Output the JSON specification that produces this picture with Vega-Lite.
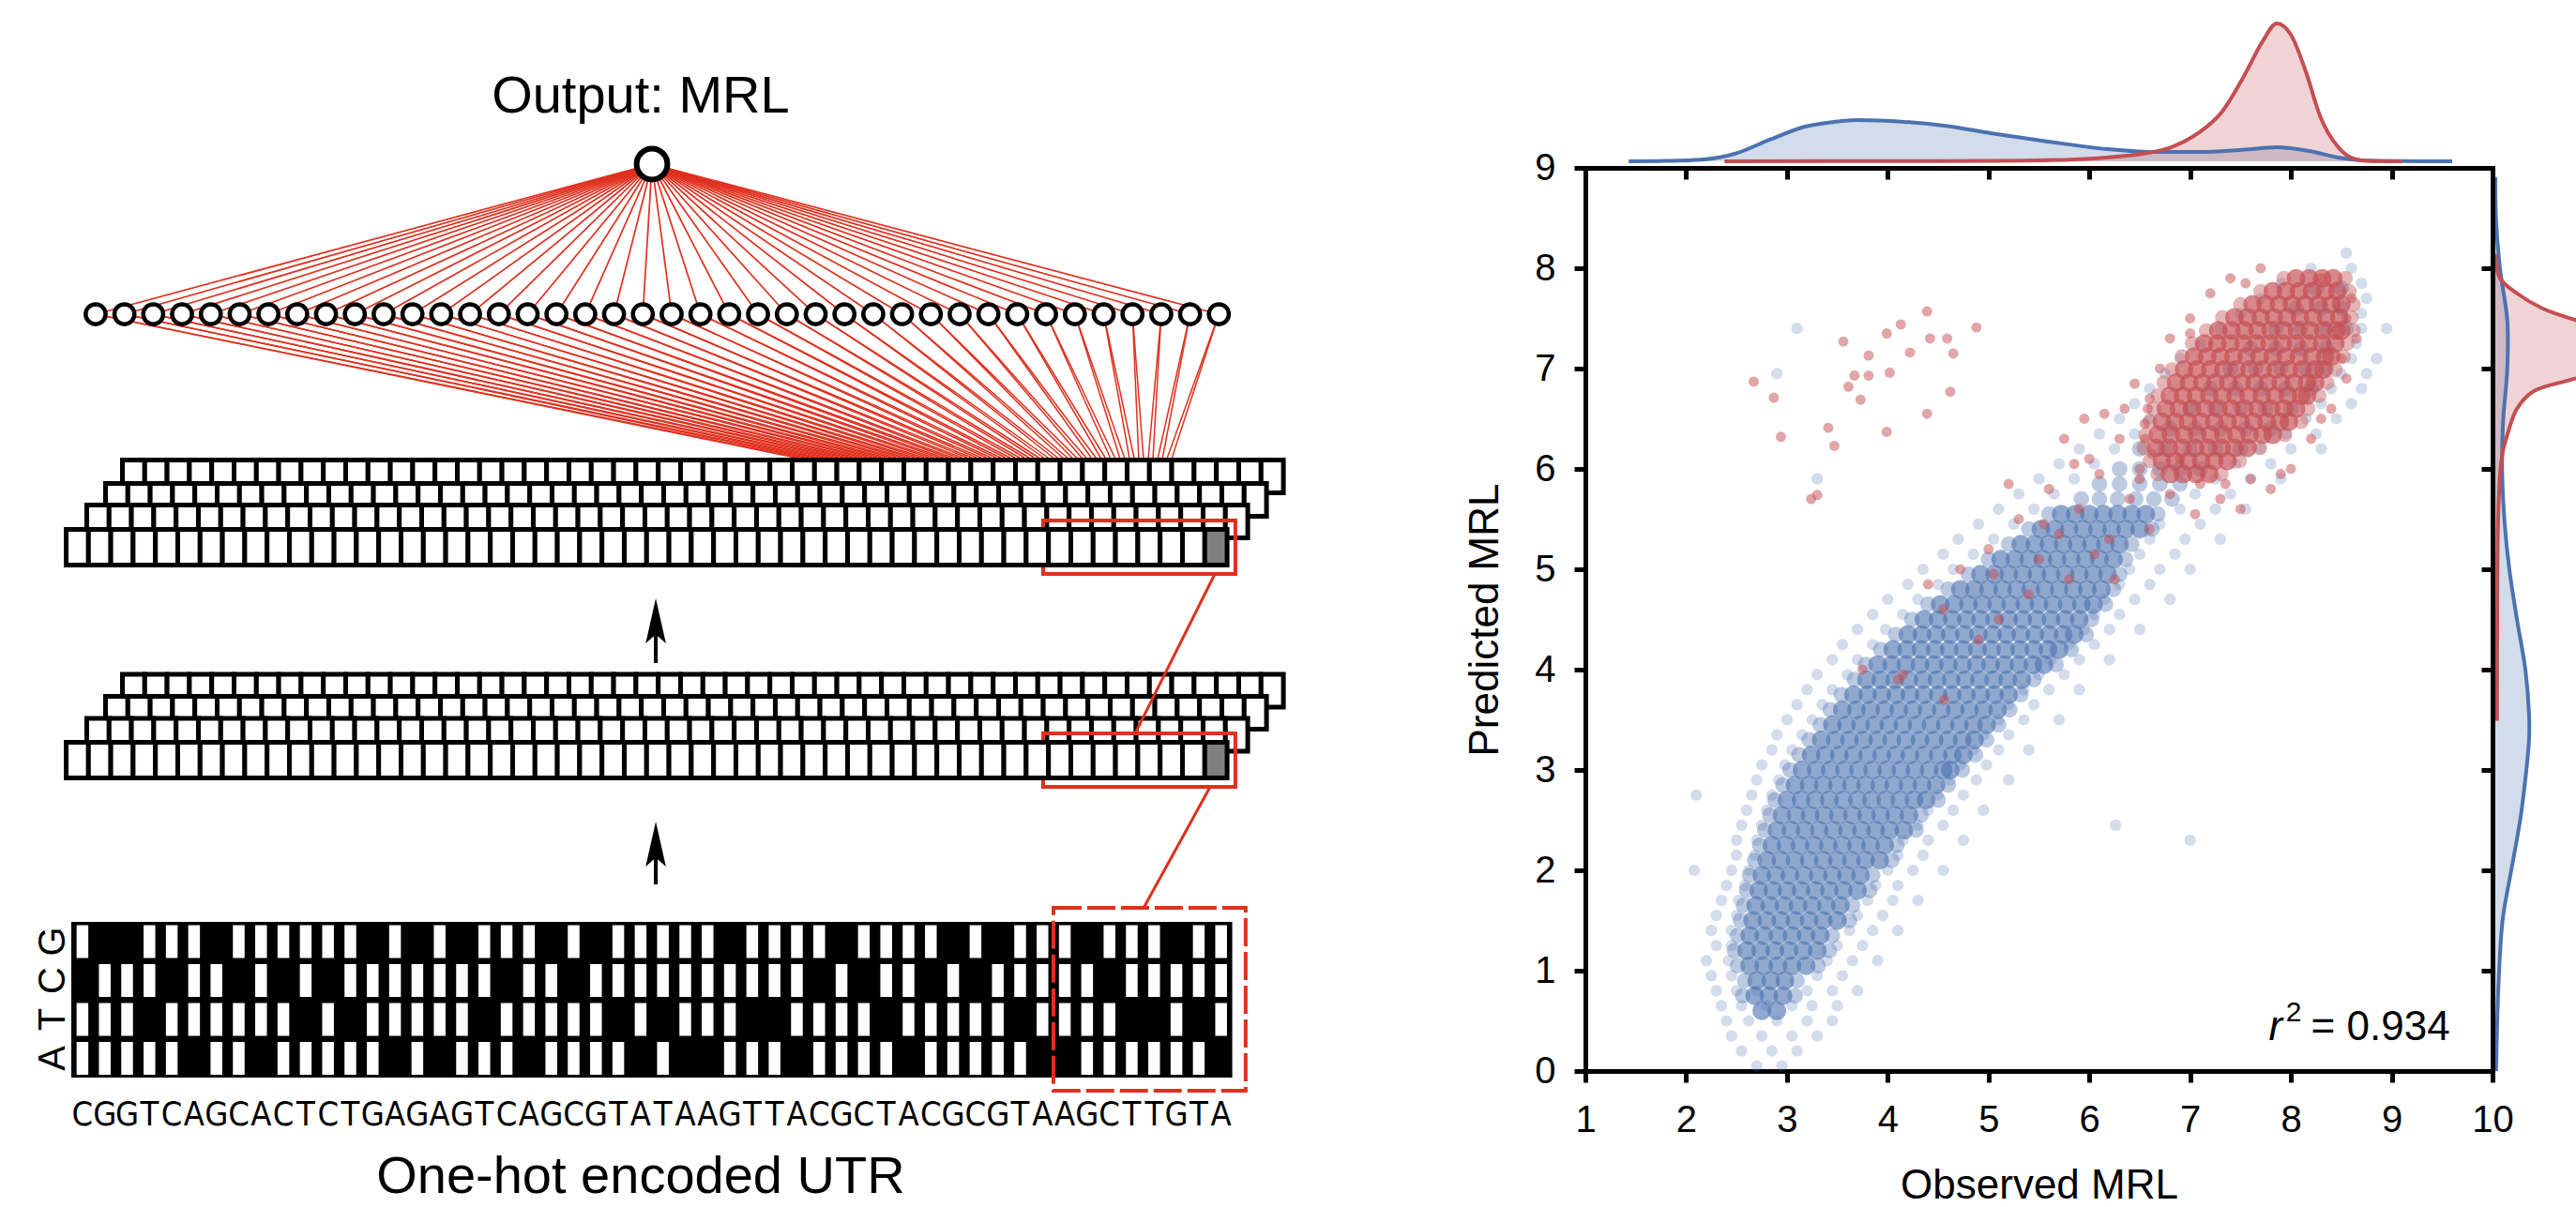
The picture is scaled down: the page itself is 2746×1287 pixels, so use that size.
{
"$schema":"https://vega.github.io/schema/vega-lite/v6.json",
"padding":0,
"background":"white",
"bounds":"flush",
"spacing":290,
"config":{
 "view":{"stroke":null},
 "font":"Liberation Sans",
 "axis":{"grid":false,"domainColor":"black","domainWidth":5,"domainCap":"square","tickColor":"black","tickWidth":5,"tickSize":12,"labelFont":"Liberation Sans","labelFontSize":40,"labelColor":"black","labelPadding":20,"titleFont":"Liberation Sans","titleFontSize":44,"titleFontWeight":"normal","titleColor":"black","labelOverlap":false,"labelFlush":false}
},
"datasets":{
 "nodes":[{"x":1.59,"to":32.94,"to2":33.15},{"x":2.88,"to":33.37,"to2":33.58},{"x":4.17,"to":33.79,"to2":34.0},{"x":5.46,"to":34.22,"to2":34.43},{"x":6.75,"to":34.65,"to2":34.86},{"x":8.04,"to":35.08,"to2":35.29},{"x":9.33,"to":35.5,"to2":35.71},{"x":10.62,"to":35.93,"to2":36.14},{"x":11.91,"to":36.36,"to2":36.57},{"x":13.2,"to":36.78,"to2":36.99},{"x":14.49,"to":37.21,"to2":37.42},{"x":15.78,"to":37.64,"to2":37.85},{"x":17.07,"to":38.06,"to2":38.27},{"x":18.36,"to":38.49,"to2":38.7},{"x":19.65,"to":38.92,"to2":39.13},{"x":20.94,"to":39.35,"to2":39.56},{"x":22.23,"to":39.77,"to2":39.98},{"x":23.52,"to":40.2,"to2":40.41},{"x":24.81,"to":40.63,"to2":40.84},{"x":26.1,"to":41.05,"to2":41.26},{"x":27.39,"to":41.48,"to2":41.69},{"x":28.68,"to":41.91,"to2":42.12},{"x":29.97,"to":42.33,"to2":42.54},{"x":31.26,"to":42.76,"to2":42.97},{"x":32.55,"to":43.19,"to2":43.4},{"x":33.84,"to":43.62,"to2":43.83},{"x":35.13,"to":44.04,"to2":44.25},{"x":36.42,"to":44.47,"to2":44.68},{"x":37.71,"to":44.9,"to2":45.11},{"x":39.0,"to":45.32,"to2":45.53},{"x":40.29,"to":45.75,"to2":45.96},{"x":41.58,"to":46.18,"to2":46.39},{"x":42.87,"to":46.6,"to2":46.81},{"x":44.16,"to":47.03,"to2":47.24},{"x":45.45,"to":47.46,"to2":47.67},{"x":46.74,"to":47.89,"to2":48.1},{"x":48.03,"to":48.31,"to2":48.52},{"x":49.32,"to":48.74,"to2":48.95},{"x":50.61,"to":49.17,"to2":49.38},{"x":51.9,"to":49.59,"to2":49.8}],
 "seq":[{"p":1,"b":"C"},{"p":2,"b":"G"},{"p":3,"b":"G"},{"p":4,"b":"T"},{"p":5,"b":"C"},{"p":6,"b":"A"},{"p":7,"b":"G"},{"p":8,"b":"C"},{"p":9,"b":"A"},{"p":10,"b":"C"},{"p":11,"b":"T"},{"p":12,"b":"C"},{"p":13,"b":"T"},{"p":14,"b":"G"},{"p":15,"b":"A"},{"p":16,"b":"G"},{"p":17,"b":"A"},{"p":18,"b":"G"},{"p":19,"b":"T"},{"p":20,"b":"C"},{"p":21,"b":"A"},{"p":22,"b":"G"},{"p":23,"b":"C"},{"p":24,"b":"G"},{"p":25,"b":"T"},{"p":26,"b":"A"},{"p":27,"b":"T"},{"p":28,"b":"A"},{"p":29,"b":"A"},{"p":30,"b":"G"},{"p":31,"b":"T"},{"p":32,"b":"T"},{"p":33,"b":"A"},{"p":34,"b":"C"},{"p":35,"b":"G"},{"p":36,"b":"C"},{"p":37,"b":"T"},{"p":38,"b":"A"},{"p":39,"b":"C"},{"p":40,"b":"G"},{"p":41,"b":"C"},{"p":42,"b":"G"},{"p":43,"b":"T"},{"p":44,"b":"A"},{"p":45,"b":"A"},{"p":46,"b":"G"},{"p":47,"b":"C"},{"p":48,"b":"T"},{"p":49,"b":"T"},{"p":50,"b":"G"},{"p":51,"b":"T"},{"p":52,"b":"A"}],
 "bases":[{"b":"G","row":24},{"b":"C","row":25},{"b":"T","row":26},{"b":"A","row":27}],
 "arrows":[{"head":15.759,"tail":16.843},{"head":21.494,"tail":22.53}],
 "links":[{"x":48.15,"y":18.651,"x2":51.72,"y2":14.554},{"x":48.53,"y":23.133,"x2":51.51,"y2":20.024}],
 "labels":[{"top":"Output: MRL","bottom":"One-hot encoded UTR"}],
 "r2":[{"r":"r","sup":"2","val":"= 0.934"}],
 "mx":[{"v":1.43,"d":0,"s":"blue"},{"v":1.8,"d":0.003,"s":"blue"},{"v":2.15,"d":0.012,"s":"blue"},{"v":2.49,"d":0.057,"s":"blue"},{"v":2.83,"d":0.159,"s":"blue"},{"v":3.18,"d":0.255,"s":"blue"},{"v":3.47,"d":0.29,"s":"blue"},{"v":3.69,"d":0.303,"s":"blue"},{"v":4.16,"d":0.29,"s":"blue"},{"v":4.56,"d":0.262,"s":"blue"},{"v":5.02,"d":0.207,"s":"blue"},{"v":5.59,"d":0.145,"s":"blue"},{"v":6.17,"d":0.09,"s":"blue"},{"v":6.63,"d":0.069,"s":"blue"},{"v":7.08,"d":0.069,"s":"blue"},{"v":7.49,"d":0.083,"s":"blue"},{"v":7.86,"d":0.103,"s":"blue"},{"v":8.18,"d":0.076,"s":"blue"},{"v":8.47,"d":0.028,"s":"blue"},{"v":8.76,"d":0.005,"s":"blue"},{"v":9.1,"d":0.001,"s":"blue"},{"v":9.6,"d":0,"s":"blue"},
  {"v":2.38,"d":0,"s":"red"},{"v":3.5,"d":0.002,"s":"red"},{"v":4.5,"d":0.002,"s":"red"},{"v":5.02,"d":0.003,"s":"red"},{"v":5.6,"d":0.008,"s":"red"},{"v":6.17,"d":0.028,"s":"red"},{"v":6.52,"d":0.055,"s":"red"},{"v":6.81,"d":0.103,"s":"red"},{"v":7.08,"d":0.207,"s":"red"},{"v":7.31,"d":0.359,"s":"red"},{"v":7.54,"d":0.634,"s":"red"},{"v":7.72,"d":0.883,"s":"red"},{"v":7.86,"d":1.014,"s":"red"},{"v":8.0,"d":0.931,"s":"red"},{"v":8.15,"d":0.655,"s":"red"},{"v":8.29,"d":0.331,"s":"red"},{"v":8.47,"d":0.103,"s":"red"},{"v":8.64,"d":0.016,"s":"red"},{"v":8.8,"d":0.002,"s":"red"},{"v":9.1,"d":0,"s":"red"}],
 "my":[{"v":0.0,"d":0.006,"s":"blue"},{"v":0.5,"d":0.014,"s":"blue"},{"v":1.0,"d":0.028,"s":"blue"},{"v":1.52,"d":0.055,"s":"blue"},{"v":2.0,"d":0.117,"s":"blue"},{"v":2.53,"d":0.186,"s":"blue"},{"v":3.0,"d":0.228,"s":"blue"},{"v":3.31,"d":0.248,"s":"blue"},{"v":3.55,"d":0.248,"s":"blue"},{"v":4.0,"d":0.221,"s":"blue"},{"v":4.5,"d":0.159,"s":"blue"},{"v":5.0,"d":0.103,"s":"blue"},{"v":5.45,"d":0.069,"s":"blue"},{"v":6.0,"d":0.05,"s":"blue"},{"v":6.47,"d":0.057,"s":"blue"},{"v":7.0,"d":0.088,"s":"blue"},{"v":7.48,"d":0.088,"s":"blue"},{"v":8.0,"d":0.034,"s":"blue"},{"v":8.5,"d":0.005,"s":"blue"},{"v":8.91,"d":0,"s":"blue"},
  {"v":3.49,"d":0.012,"s":"red"},{"v":4.5,"d":0.014,"s":"red"},{"v":5.4,"d":0.019,"s":"red"},{"v":5.93,"d":0.034,"s":"red"},{"v":6.17,"d":0.055,"s":"red"},{"v":6.35,"d":0.09,"s":"red"},{"v":6.6,"d":0.159,"s":"red"},{"v":6.77,"d":0.276,"s":"red"},{"v":6.88,"d":0.53,"s":"red"},{"v":7.0,"d":0.9,"s":"red"},{"v":7.15,"d":1.2,"s":"red"},{"v":7.3,"d":1.15,"s":"red"},{"v":7.48,"d":0.6,"s":"red"},{"v":7.6,"d":0.345,"s":"red"},{"v":7.75,"d":0.159,"s":"red"},{"v":7.9,"d":0.034,"s":"red"},{"v":8.14,"d":0,"s":"red"}],
 "bc":[{"y":0.6,"x":[2.75,2.9]},{"y":0.75,"x":[2.68,2.82,2.96]},{"y":0.9,"x":[2.7,2.84,2.98]},{"y":1.05,"x":[2.63,2.77,2.91,3.05,3.19]},{"y":1.2,"x":[2.6,2.74,2.88,3.02,3.16,3.3]},{"y":1.35,"x":[2.63,2.77,2.91,3.05,3.19,3.33]},{"y":1.5,"x":[2.66,2.8,2.94,3.08,3.22,3.36,3.5]},{"y":1.65,"x":[2.69,2.83,2.97,3.11,3.25,3.39,3.53]},{"y":1.8,"x":[2.72,2.86,3.0,3.14,3.28,3.42,3.56,3.7]},{"y":1.95,"x":[2.75,2.89,3.03,3.17,3.31,3.45,3.59,3.73]},{"y":2.1,"x":[2.8,2.94,3.08,3.22,3.36,3.5,3.64,3.78,3.92]},{"y":2.25,"x":[2.85,2.99,3.13,3.27,3.41,3.55,3.69,3.83,3.97]},{"y":2.4,"x":[2.9,3.04,3.18,3.32,3.46,3.6,3.74,3.88,4.02,4.16]},{"y":2.55,"x":[2.95,3.09,3.23,3.37,3.51,3.65,3.79,3.93,4.07,4.21]},{"y":2.7,"x":[3.0,3.14,3.28,3.42,3.56,3.7,3.84,3.98,4.12,4.26,4.38]},{"y":2.85,"x":[3.08,3.22,3.36,3.5,3.64,3.78,3.92,4.06,4.2,4.34,4.48]},{"y":3.0,"x":[3.15,3.29,3.43,3.57,3.71,3.85,3.99,4.13,4.27,4.41,4.55,4.62]},{"y":3.15,"x":[3.24,3.38,3.52,3.66,3.8,3.94,4.08,4.22,4.36,4.5,4.64,4.75]},{"y":3.3,"x":[3.34,3.48,3.62,3.76,3.9,4.04,4.18,4.32,4.46,4.6,4.74,4.86]},{"y":3.45,"x":[3.45,3.59,3.73,3.87,4.01,4.15,4.29,4.43,4.57,4.71,4.85,4.98]},{"y":3.6,"x":[3.55,3.69,3.83,3.97,4.11,4.25,4.39,4.53,4.67,4.81,4.95,5.09]},{"y":3.75,"x":[3.66,3.8,3.94,4.08,4.22,4.36,4.5,4.64,4.78,4.92,5.06,5.2]},{"y":3.9,"x":[3.79,3.93,4.07,4.21,4.35,4.49,4.63,4.77,4.91,5.05,5.19,5.33]},{"y":4.05,"x":[3.9,4.04,4.18,4.32,4.46,4.6,4.74,4.88,5.02,5.16,5.3,5.44,5.55]},{"y":4.2,"x":[4.05,4.19,4.33,4.47,4.61,4.75,4.89,5.03,5.17,5.31,5.45,5.59,5.7]},{"y":4.35,"x":[4.2,4.34,4.48,4.62,4.76,4.9,5.04,5.18,5.32,5.46,5.6,5.74,5.85]},{"y":4.5,"x":[4.36,4.5,4.64,4.78,4.92,5.06,5.2,5.34,5.48,5.62,5.76,5.9]},{"y":4.65,"x":[4.52,4.66,4.8,4.94,5.08,5.22,5.36,5.5,5.64,5.78,5.92,6.04]},{"y":4.8,"x":[4.72,4.86,5.0,5.14,5.28,5.42,5.56,5.7,5.84,5.98,6.12]},{"y":4.95,"x":[4.92,5.06,5.2,5.34,5.48,5.62,5.76,5.9,6.04,6.18]},{"y":5.1,"x":[5.12,5.26,5.4,5.54,5.68,5.82,5.96,6.1,6.24]},{"y":5.25,"x":[5.32,5.46,5.6,5.74,5.88,6.02,6.16,6.3]},{"y":5.4,"x":[5.52,5.66,5.8,5.94,6.08,6.22,6.36,6.5]},{"y":5.55,"x":[5.72,5.86,6.0,6.14,6.28,6.42,6.56]}],
 "bm":[{"y":0.75,"x":[2.56,3.08]},{"y":0.9,"x":[2.58,3.1]},{"y":1.05,"x":[2.51,3.31]},{"y":1.2,"x":[2.48,3.42]},{"y":1.35,"x":[2.51,3.45]},{"y":1.5,"x":[2.54,3.62]},{"y":1.65,"x":[2.57,3.65]},{"y":1.8,"x":[2.6,3.82]},{"y":1.95,"x":[2.63,3.85]},{"y":2.1,"x":[2.68,4.04]},{"y":2.25,"x":[2.73,4.09]},{"y":2.4,"x":[2.78,4.28]},{"y":2.55,"x":[2.83,4.33]},{"y":2.7,"x":[2.88,4.5]},{"y":2.85,"x":[2.96,4.6]},{"y":3.0,"x":[3.03,4.74]},{"y":3.15,"x":[3.12,4.87]},{"y":3.3,"x":[3.22,4.98]},{"y":3.45,"x":[3.33,5.1]},{"y":3.6,"x":[3.43,5.21]},{"y":3.75,"x":[3.54,5.32]},{"y":3.9,"x":[3.67,5.45]},{"y":4.05,"x":[3.78,5.67]},{"y":4.2,"x":[3.93,5.82]},{"y":4.35,"x":[4.08,5.97]},{"y":4.5,"x":[4.24,6.02]},{"y":4.65,"x":[4.4,6.16]},{"y":4.8,"x":[4.6,6.24]},{"y":4.95,"x":[4.8,6.3]},{"y":5.1,"x":[5.0,6.36]},{"y":5.25,"x":[5.2,6.42]},{"y":5.4,"x":[5.4,6.62]},{"y":5.55,"x":[5.6,6.68]},{"y":5.7,"x":[5.92,6.1,6.28,6.46,6.64,6.82]},{"y":5.85,"x":[6.1,6.3,6.5,6.7,6.9]},{"y":6.0,"x":[6.3,6.5,6.7,6.9,7.1]},{"y":6.2,"x":[6.5,6.75,7.0,7.25,7.5]},{"y":6.4,"x":[6.8,7.05,7.3,7.55,7.8]},{"y":6.6,"x":[7.0,7.25,7.5,7.75,8.0]},{"y":6.8,"x":[7.2,7.45,7.7,7.95,8.2]},{"y":7.0,"x":[7.4,7.65,7.9,8.15,8.35]},{"y":7.2,"x":[7.6,7.85,8.1,8.35]},{"y":7.4,"x":[7.85,8.1,8.35,8.55]},{"y":7.6,"x":[8.05,8.3,8.5]},{"y":7.8,"x":[8.25,8.5]}],
 "bh":[{"y":0.05,"x":[2.7,2.95]},{"y":0.2,"x":[2.55,2.85,3.1]},{"y":0.35,"x":[2.45,2.75,3.05,3.3]},{"y":0.5,"x":[2.4,2.62,2.9,3.2,3.45]},{"y":0.65,"x":[2.35,2.55,2.8,3.05,3.25,3.5]},{"y":0.8,"x":[2.3,2.5,2.7,3.2,3.45,3.7]},{"y":0.95,"x":[2.25,2.45,3.3,3.55]},{"y":1.1,"x":[2.2,2.42,3.4,3.65,3.9]},{"y":1.25,"x":[2.3,2.45,3.5,3.75]},{"y":1.4,"x":[2.25,2.45,3.62,3.85,4.1]},{"y":1.55,"x":[2.3,2.5,3.7,3.95]},{"y":1.7,"x":[2.35,2.52,3.8,4.05,4.3]},{"y":1.85,"x":[2.4,2.58,3.88,4.1]},{"y":2.0,"x":[2.08,2.45,2.62,4.0,4.25,4.55]},{"y":2.15,"x":[2.5,2.68,4.1,4.35]},{"y":2.3,"x":[2.5,2.7,4.15,4.4,4.75,7.0]},{"y":2.45,"x":[2.55,2.75,4.3,4.55,6.26]},{"y":2.6,"x":[2.6,2.8,4.4,4.65,4.95]},{"y":2.75,"x":[2.1,2.65,2.85,4.5,4.75]},{"y":2.9,"x":[2.7,2.92,4.62,4.88,5.2]},{"y":3.05,"x":[2.75,2.98,4.72,4.98]},{"y":3.2,"x":[2.85,3.05,4.85,5.1,5.4]},{"y":3.35,"x":[2.9,3.15,4.95,5.2]},{"y":3.5,"x":[3.0,3.25,5.1,5.35,5.7]},{"y":3.65,"x":[3.1,3.35,5.2,5.45]},{"y":3.8,"x":[3.2,3.45,5.35,5.6,5.9]},{"y":3.95,"x":[3.3,3.6,5.5,5.75]},{"y":4.1,"x":[3.45,3.7,5.62,5.9,6.2]},{"y":4.25,"x":[3.55,3.85,5.8,6.05]},{"y":4.4,"x":[3.7,3.98,5.95,6.2,6.5]},{"y":4.55,"x":[3.85,4.15,6.05,6.3]},{"y":4.7,"x":[4.0,4.3,6.15,6.45,6.8]},{"y":4.85,"x":[4.2,4.5,6.3,6.6]},{"y":5.0,"x":[4.35,4.65,6.4,6.7,7.0]},{"y":5.15,"x":[4.55,4.85,6.5,6.85]},{"y":5.3,"x":[4.7,5.05,6.6,6.95,7.3]},{"y":5.45,"x":[4.9,5.25,6.7,7.1]},{"y":5.6,"x":[5.1,5.45,6.9,7.25,7.55]},{"y":5.75,"x":[5.3,5.65,7.05,7.4]},{"y":5.9,"x":[3.3,5.5,5.85,7.25,7.6,7.9]},{"y":6.05,"x":[5.7,6.05,7.45,7.8]},{"y":6.2,"x":[5.9,6.25,7.7,8.0,8.3]},{"y":6.35,"x":[6.1,6.45,7.95,8.25]},{"y":6.5,"x":[6.3,6.6,8.15,8.45]},{"y":6.65,"x":[6.45,8.3,8.6]},{"y":6.8,"x":[6.6,8.4,8.7]},{"y":6.95,"x":[2.9,6.75,8.5,8.75]},{"y":7.1,"x":[6.9,8.6,8.85]},{"y":7.25,"x":[7.1,8.65]},{"y":7.4,"x":[3.1,7.3,8.7,8.95]},{"y":7.55,"x":[7.5,8.7]},{"y":7.7,"x":[7.7,8.75]},{"y":7.85,"x":[7.9,8.7]},{"y":8.0,"x":[8.2,8.6]},{"y":8.15,"x":[8.55]}],
 "rc":[{"y":5.95,"x":[6.8,6.93,7.06,7.19]},{"y":6.08,"x":[6.72,6.85,6.98,7.11,7.24,7.37]},{"y":6.21,"x":[6.66,6.79,6.92,7.05,7.18,7.31,7.44,7.57]},{"y":6.34,"x":[6.68,6.81,6.94,7.07,7.2,7.33,7.46,7.59,7.72,7.82]},{"y":6.47,"x":[6.72,6.85,6.98,7.11,7.24,7.37,7.5,7.63,7.76,7.89,7.98]},{"y":6.6,"x":[6.76,6.89,7.02,7.15,7.28,7.41,7.54,7.67,7.8,7.93,8.05]},{"y":6.73,"x":[6.8,6.93,7.06,7.19,7.32,7.45,7.58,7.71,7.84,7.97,8.1,8.16]},{"y":6.86,"x":[6.86,6.99,7.12,7.25,7.38,7.51,7.64,7.77,7.9,8.03,8.16,8.24]},{"y":6.99,"x":[6.94,7.07,7.2,7.33,7.46,7.59,7.72,7.85,7.98,8.11,8.24,8.32]},{"y":7.12,"x":[7.04,7.17,7.3,7.43,7.56,7.69,7.82,7.95,8.08,8.21,8.34,8.4]},{"y":7.25,"x":[7.14,7.27,7.4,7.53,7.66,7.79,7.92,8.05,8.18,8.31,8.44]},{"y":7.38,"x":[7.28,7.41,7.54,7.67,7.8,7.93,8.06,8.19,8.32,8.45,8.5]},{"y":7.51,"x":[7.44,7.57,7.7,7.83,7.96,8.09,8.22,8.35,8.48]},{"y":7.64,"x":[7.62,7.75,7.88,8.01,8.14,8.27,8.4,8.5]},{"y":7.77,"x":[7.82,7.95,8.08,8.21,8.34,8.46]},{"y":7.9,"x":[8.05,8.18,8.31,8.42]}],
 "rm":[{"y":5.95,"x":[6.68,7.31]},{"y":6.08,"x":[6.6,7.49]},{"y":6.21,"x":[6.54,7.69]},{"y":6.34,"x":[6.56,7.94]},{"y":6.47,"x":[6.6,8.1]},{"y":6.6,"x":[6.64,8.17]},{"y":6.73,"x":[6.68,8.28]},{"y":6.86,"x":[6.74,8.36]},{"y":6.99,"x":[6.82,8.44]},{"y":7.12,"x":[6.92,8.52]},{"y":7.25,"x":[7.02,8.56]},{"y":7.38,"x":[7.16,8.62]},{"y":7.51,"x":[7.32,8.6]},{"y":7.64,"x":[7.5,8.62]},{"y":7.77,"x":[7.7,8.58]},{"y":7.9,"x":[7.93,8.54]}],
 "rs":[{"x":2.67,"y":6.87},{"x":2.87,"y":6.71},{"x":2.94,"y":6.32},{"x":3.24,"y":5.7},{"x":3.3,"y":5.74},{"x":3.41,"y":6.41},{"x":3.47,"y":6.23},{"x":3.56,"y":7.27},{"x":3.61,"y":6.82},{"x":3.67,"y":6.93},{"x":3.73,"y":6.69},{"x":3.81,"y":7.13},{"x":3.81,"y":6.93},{"x":3.99,"y":7.35},{"x":4.02,"y":6.96},{"x":3.99,"y":6.37},{"x":4.13,"y":7.44},{"x":4.22,"y":7.16},{"x":4.39,"y":7.57},{"x":4.42,"y":7.3},{"x":4.39,"y":6.55},{"x":4.59,"y":7.3},{"x":4.65,"y":7.15},{"x":4.62,"y":6.77},{"x":4.88,"y":7.41},{"x":3.75,"y":4.0},{"x":4.1,"y":3.9},{"x":4.15,"y":3.95},{"x":4.56,"y":3.7},{"x":4.4,"y":4.85},{"x":4.55,"y":4.6},{"x":4.72,"y":5.0},{"x":5.0,"y":5.2},{"x":5.3,"y":5.5},{"x":5.5,"y":5.1},{"x":5.1,"y":4.5},{"x":5.6,"y":5.8},{"x":5.9,"y":5.6},{"x":6.0,"y":6.1},{"x":6.2,"y":5.3},{"x":5.8,"y":4.9},{"x":6.4,"y":5.7},{"x":6.1,"y":5.95},{"x":6.3,"y":6.3},{"x":5.4,"y":4.75},{"x":5.7,"y":5.35},{"x":4.9,"y":4.3},{"x":6.5,"y":5.9},{"x":6.55,"y":6.45},{"x":6.35,"y":6.6},{"x":5.95,"y":6.5},{"x":5.2,"y":5.85},{"x":5.75,"y":6.3},{"x":6.6,"y":5.4},{"x":6.45,"y":6.85},{"x":6.25,"y":4.9},{"x":6.5,"y":6.0},{"x":6.55,"y":6.3},{"x":6.6,"y":6.7},{"x":6.7,"y":7.0},{"x":6.8,"y":7.3},{"x":7.0,"y":7.5},{"x":7.2,"y":7.75},{"x":7.4,"y":7.9},{"x":7.7,"y":8.0},{"x":8.6,"y":7.7},{"x":8.65,"y":7.3},{"x":8.55,"y":6.9},{"x":8.4,"y":6.6},{"x":8.2,"y":6.3},{"x":8.0,"y":6.0},{"x":7.8,"y":5.8},{"x":7.5,"y":5.6},{"x":7.3,"y":5.7},{"x":7.6,"y":5.9},{"x":8.3,"y":7.9},{"x":5.05,"y":4.95},{"x":5.55,"y":5.45},{"x":6.05,"y":5.15},{"x":6.8,"y":5.75},{"x":7.05,"y":5.55},{"x":6.15,"y":6.55},{"x":5.85,"y":6.05},{"x":7.1,"y":5.85},{"x":6.9,"y":6.1},{"x":6.62,"y":6.15},{"x":6.58,"y":6.6},{"x":7.0,"y":7.35},{"x":7.55,"y":7.85},{"x":8.55,"y":7.5},{"x":8.5,"y":7.1},{"x":8.3,"y":6.5},{"x":7.9,"y":5.95},{"x":7.35,"y":5.85}]
},
"hconcat":[
 {
  "width":1400,"height":1287,
  "layer":[
   {"data":{"name":"nodes"},"mark":{"type":"rule","color":"#e0301e","strokeWidth":1.7},
    "encoding":{"x":{"field":"x","type":"quantitative","scale":{"domain":[-2.693,56.131],"nice":false,"zero":false},"axis":null},"y":{"datum":7.88,"type":"quantitative","scale":{"domain":[-0.193,30.819],"nice":false,"zero":false,"reverse":true},"axis":null},"x2":{"datum":26.51},"y2":{"datum":4.024}}},
   {"data":{"name":"nodes"},"mark":{"type":"rule","color":"#e0301e","strokeWidth":1.5},
    "encoding":{"x":{"field":"x","type":"quantitative","axis":null},"y":{"datum":7.88,"type":"quantitative","axis":null},"x2":{"field":"to"},"y2":{"datum":11.566}}},
   {"data":{"name":"nodes"},"mark":{"type":"rule","color":"#e0301e","strokeWidth":1.5},
    "encoding":{"x":{"field":"x","type":"quantitative","axis":null},"y":{"datum":7.88,"type":"quantitative","axis":null},"x2":{"field":"to2"},"y2":{"datum":11.566}}},
   {"data":{"name":"nodes"},"mark":{"type":"point","shape":"circle","size":450,"filled":true,"fill":"white","stroke":"black","strokeWidth":4.5,"opacity":1},
    "encoding":{"x":{"field":"x","type":"quantitative","axis":null},"y":{"datum":7.88,"type":"quantitative","axis":null}}},
   {"data":{"name":"labels"},"mark":{"type":"point","shape":"circle","size":1075,"filled":true,"fill":"white","stroke":"black","strokeWidth":6,"opacity":1},
    "encoding":{"x":{"datum":26.51,"type":"quantitative","axis":null},"y":{"datum":4.024,"type":"quantitative","axis":null}}},
   {"data":{"name":"labels"},"mark":{"type":"text","fontSize":56,"align":"center","baseline":"alphabetic","color":"black","font":"Liberation Sans"},
    "encoding":{"text":{"field":"top"},"x":{"datum":26.0,"type":"quantitative","axis":null},"y":{"datum":2.7,"type":"quantitative","axis":null}}},
   {"data":{"name":"seq"},"mark":{"type":"point","shape":"M-0.68,-1L0.68,-1L0.68,1L-0.68,1Z","size":1225,"filled":true,"fill":"white","stroke":"black","strokeWidth":5,"opacity":1,"xOffset":54.5},
    "encoding":{"x":{"field":"p","type":"quantitative","axis":null},"y":{"datum":12.048,"type":"quantitative","axis":null}}},
   {"data":{"name":"seq"},"mark":{"type":"point","shape":"M-0.68,-1L0.68,-1L0.68,1L-0.68,1Z","size":1225,"filled":true,"fill":"white","stroke":"black","strokeWidth":5,"opacity":1,"xOffset":36.5},
    "encoding":{"x":{"field":"p","type":"quantitative","axis":null},"y":{"datum":12.651,"type":"quantitative","axis":null}}},
   {"data":{"name":"seq"},"mark":{"type":"point","shape":"M-0.68,-1L0.68,-1L0.68,1L-0.68,1Z","size":1225,"filled":true,"fill":"white","stroke":"black","strokeWidth":5,"opacity":1,"xOffset":16.5},
    "encoding":{"x":{"field":"p","type":"quantitative","axis":null},"y":{"datum":13.205,"type":"quantitative","axis":null}}},
   {"data":{"name":"labels"},"mark":{"type":"rect","fillOpacity":0,"stroke":"#e0301e","strokeWidth":4},
    "encoding":{"x":{"datum":44.03,"type":"quantitative","axis":null},"x2":{"datum":52.64},"y":{"datum":13.181,"type":"quantitative","axis":null},"y2":{"datum":14.554}}},
   {"data":{"name":"seq"},"mark":{"type":"point","shape":"M-0.626,-1L0.626,-1L0.626,1L-0.626,1Z","size":1444,"filled":true,"stroke":"black","strokeWidth":5,"opacity":1,"xOffset":-5.5},
    "encoding":{"x":{"field":"p","type":"quantitative","axis":null},"y":{"datum":13.867,"type":"quantitative","axis":null},"fill":{"condition":{"test":"datum.p === 52","value":"#7f7f7f"},"value":"white"}}},
   {"data":{"name":"arrows"},"mark":{"type":"rule","color":"black","strokeWidth":4},
    "encoding":{"x":{"datum":26.68,"type":"quantitative","axis":null},"y":{"field":"head","type":"quantitative","axis":null},"y2":{"field":"tail"}}},
   {"data":{"name":"arrows"},"mark":{"type":"point","shape":"M0,-1L0.45,1L0,0.6L-0.45,1Z","size":2304,"filled":true,"color":"black","opacity":1},
    "encoding":{"x":{"datum":26.68,"type":"quantitative","axis":null},"y":{"field":"head","type":"quantitative","axis":null}}},
   {"data":{"name":"seq"},"mark":{"type":"point","shape":"M-0.68,-1L0.68,-1L0.68,1L-0.68,1Z","size":1225,"filled":true,"fill":"white","stroke":"black","strokeWidth":5,"opacity":1,"xOffset":54.5},
    "encoding":{"x":{"field":"p","type":"quantitative","axis":null},"y":{"datum":17.554,"type":"quantitative","axis":null}}},
   {"data":{"name":"seq"},"mark":{"type":"point","shape":"M-0.68,-1L0.68,-1L0.68,1L-0.68,1Z","size":1225,"filled":true,"fill":"white","stroke":"black","strokeWidth":5,"opacity":1,"xOffset":36.5},
    "encoding":{"x":{"field":"p","type":"quantitative","axis":null},"y":{"datum":18.12,"type":"quantitative","axis":null}}},
   {"data":{"name":"seq"},"mark":{"type":"point","shape":"M-0.68,-1L0.68,-1L0.68,1L-0.68,1Z","size":1225,"filled":true,"fill":"white","stroke":"black","strokeWidth":5,"opacity":1,"xOffset":16.5},
    "encoding":{"x":{"field":"p","type":"quantitative","axis":null},"y":{"datum":18.687,"type":"quantitative","axis":null}}},
   {"data":{"name":"labels"},"mark":{"type":"rect","fillOpacity":0,"stroke":"#e0301e","strokeWidth":4},
    "encoding":{"x":{"datum":44.03,"type":"quantitative","axis":null},"x2":{"datum":52.64},"y":{"datum":18.651,"type":"quantitative","axis":null},"y2":{"datum":20.024}}},
   {"data":{"name":"seq"},"mark":{"type":"point","shape":"M-0.626,-1L0.626,-1L0.626,1L-0.626,1Z","size":1444,"filled":true,"stroke":"black","strokeWidth":5,"opacity":1,"xOffset":-5.5},
    "encoding":{"x":{"field":"p","type":"quantitative","axis":null},"y":{"datum":19.337,"type":"quantitative","axis":null},"fill":{"condition":{"test":"datum.p === 52","value":"#7f7f7f"},"value":"white"}}},
   {"data":{"name":"links"},"mark":{"type":"rule","color":"#e0301e","strokeWidth":3},
    "encoding":{"x":{"field":"x","type":"quantitative","axis":null},"y":{"field":"y","type":"quantitative","axis":null},"x2":{"field":"x2"},"y2":{"field":"y2"}}},
   {"data":{"name":"labels"},"mark":{"type":"rect","color":"black"},
    "encoding":{"x":{"datum":0.5,"type":"quantitative","axis":null},"x2":{"datum":52.5},"y":{"datum":23.494,"type":"quantitative","axis":null},"y2":{"datum":27.494}}},
   {"data":{"name":"seq"},"mark":{"type":"point","shape":"M-0.357,-1L0.357,-1L0.357,1L-0.357,1Z","size":1225,"filled":true,"strokeWidth":0,"opacity":1},
    "encoding":{"x":{"field":"p","type":"quantitative","axis":null},"y":{"datum":24,"type":"quantitative","axis":null},"fill":{"condition":{"test":"datum.b === 'G'","value":"black"},"value":"white"}}},
   {"data":{"name":"seq"},"mark":{"type":"point","shape":"M-0.357,-1L0.357,-1L0.357,1L-0.357,1Z","size":1225,"filled":true,"strokeWidth":0,"opacity":1},
    "encoding":{"x":{"field":"p","type":"quantitative","axis":null},"y":{"datum":25,"type":"quantitative","axis":null},"fill":{"condition":{"test":"datum.b === 'C'","value":"black"},"value":"white"}}},
   {"data":{"name":"seq"},"mark":{"type":"point","shape":"M-0.357,-1L0.357,-1L0.357,1L-0.357,1Z","size":1225,"filled":true,"strokeWidth":0,"opacity":1},
    "encoding":{"x":{"field":"p","type":"quantitative","axis":null},"y":{"datum":26,"type":"quantitative","axis":null},"fill":{"condition":{"test":"datum.b === 'T'","value":"black"},"value":"white"}}},
   {"data":{"name":"seq"},"mark":{"type":"point","shape":"M-0.357,-1L0.357,-1L0.357,1L-0.357,1Z","size":1225,"filled":true,"strokeWidth":0,"opacity":1},
    "encoding":{"x":{"field":"p","type":"quantitative","axis":null},"y":{"datum":27,"type":"quantitative","axis":null},"fill":{"condition":{"test":"datum.b === 'A'","value":"black"},"value":"white"}}},
   {"data":{"name":"labels"},"mark":{"type":"rect","fillOpacity":0,"stroke":"#e0301e","strokeWidth":4,"strokeDash":[30,6]},
    "encoding":{"x":{"datum":44.49,"type":"quantitative","axis":null},"x2":{"datum":53.1},"y":{"datum":23.133,"type":"quantitative","axis":null},"y2":{"datum":27.831}}},
   {"data":{"name":"seq"},"mark":{"type":"text","font":"Liberation Sans Narrow, DejaVu Sans Condensed, DejaVu Sans Mono","fontSize":36,"align":"center","baseline":"alphabetic","color":"black"},
    "encoding":{"text":{"field":"b"},"x":{"field":"p","type":"quantitative","axis":null},"y":{"datum":28.723,"type":"quantitative","axis":null}}},
   {"data":{"name":"bases"},"mark":{"type":"text","fontSize":40,"angle":270,"align":"center","baseline":"middle","color":"black","font":"Liberation Sans"},
    "encoding":{"text":{"field":"b"},"x":{"datum":-0.3,"type":"quantitative","axis":null},"y":{"field":"row","type":"quantitative","axis":null}}},
   {"data":{"name":"labels"},"mark":{"type":"text","fontSize":56,"align":"center","baseline":"alphabetic","color":"black","font":"Liberation Sans"},
    "encoding":{"text":{"field":"bottom"},"x":{"datum":26.0,"type":"quantitative","axis":null},"y":{"datum":30.458,"type":"quantitative","axis":null}}}
  ]
 },
 {
  "bounds":"flush",
  "spacing":7,
  "vconcat":[
   {
    "width":967,"height":172,
    "data":{"name":"mx"},
    "layer":[
     {"mark":{"type":"area","interpolate":"monotone","opacity":0.25},
      "encoding":{"x":{"field":"v","type":"quantitative","scale":{"domain":[1,10],"nice":false,"zero":false},"axis":null},"y":{"field":"d","type":"quantitative","stack":null,"scale":{"domain":[0,1.186],"nice":false},"axis":null},"color":{"field":"s","type":"nominal","scale":{"domain":["blue","red"],"range":["#4c72b0","#c44e52"]},"legend":null}}},
     {"mark":{"type":"line","interpolate":"monotone","strokeWidth":4},
      "encoding":{"x":{"field":"v","type":"quantitative","axis":null},"y":{"field":"d","type":"quantitative","stack":null,"axis":null},"color":{"field":"s","type":"nominal","legend":null}}}
    ]
   },
   {
    "bounds":"flush",
    "spacing":3,
    "hconcat":[
     {
      "width":967,"height":963,
      "resolve":{"axis":{"x":"independent","y":"independent"}},
      "layer":[
       {"data":{"name":"bh"},"transform":[{"flatten":["x"]}],"mark":{"type":"circle","color":"#4c72b0","size":150,"opacity":0.25},
        "encoding":{"x":{"field":"x","type":"quantitative","scale":{"domain":[1,10],"nice":false,"zero":false},"axis":{"orient":"bottom","values":[1,2,3,4,5,6,7,8,9,10],"title":"Observed MRL","titlePadding":28}},
                    "y":{"field":"y","type":"quantitative","scale":{"domain":[0,9],"nice":false,"zero":false},"axis":{"orient":"left","values":[0,1,2,3,4,5,6,7,8,9],"title":"Predicted MRL","titlePadding":30}}}},
       {"data":{"name":"bm"},"transform":[{"flatten":["x"]}],"mark":{"type":"circle","color":"#4c72b0","size":280,"opacity":0.38},
        "encoding":{"x":{"field":"x","type":"quantitative","axis":{"orient":"top","values":[2,3,4,5,6,7,8,9],"labels":false,"tickSize":-12,"title":null}},
                    "y":{"field":"y","type":"quantitative","axis":{"orient":"right","values":[1,2,3,4,5,6,7,8],"labels":false,"tickSize":-12,"title":null}}}},
       {"data":{"name":"bc"},"transform":[{"flatten":["x"]}],"mark":{"type":"circle","color":"#4c72b0","size":400,"opacity":0.62},
        "encoding":{"x":{"field":"x","type":"quantitative","axis":null},"y":{"field":"y","type":"quantitative","axis":null}}},
       {"data":{"name":"rs"},"mark":{"type":"circle","color":"#c44e52","size":120,"opacity":0.5},
        "encoding":{"x":{"field":"x","type":"quantitative","axis":null},"y":{"field":"y","type":"quantitative","axis":null}}},
       {"data":{"name":"rm"},"transform":[{"flatten":["x"]}],"mark":{"type":"circle","color":"#c44e52","size":250,"opacity":0.42},
        "encoding":{"x":{"field":"x","type":"quantitative","axis":null},"y":{"field":"y","type":"quantitative","axis":null}}},
       {"data":{"name":"rc"},"transform":[{"flatten":["x"]}],"mark":{"type":"circle","color":"#c44e52","size":400,"opacity":0.68},
        "encoding":{"x":{"field":"x","type":"quantitative","axis":null},"y":{"field":"y","type":"quantitative","axis":null}}},
       {"data":{"name":"r2"},"mark":{"type":"text","fontSize":44,"fontStyle":"italic","align":"left","baseline":"alphabetic","color":"black","font":"Liberation Sans"},
        "encoding":{"text":{"field":"r"},"x":{"datum":7.78,"type":"quantitative","axis":null},"y":{"datum":0.31,"type":"quantitative","axis":null}}},
       {"data":{"name":"r2"},"mark":{"type":"text","fontSize":30,"align":"left","baseline":"alphabetic","color":"black","font":"Liberation Sans"},
        "encoding":{"text":{"field":"sup"},"x":{"datum":7.95,"type":"quantitative","axis":null},"y":{"datum":0.5,"type":"quantitative","axis":null}}},
       {"data":{"name":"r2"},"mark":{"type":"text","fontSize":44,"align":"left","baseline":"alphabetic","color":"black","font":"Liberation Sans"},
        "encoding":{"text":{"field":"val"},"x":{"datum":8.2,"type":"quantitative","axis":null},"y":{"datum":0.31,"type":"quantitative","axis":null}}}
      ]
     },
     {
      "width":86,"height":963,
      "data":{"name":"my"},
      "layer":[
       {"mark":{"type":"area","orient":"horizontal","interpolate":"catmull-rom","opacity":0.25,"clip":true},
        "encoding":{"y":{"field":"v","type":"quantitative","scale":{"domain":[0,9],"nice":false,"zero":false},"axis":null},"x":{"field":"d","type":"quantitative","stack":null,"scale":{"domain":[0,0.593],"nice":false},"axis":null},"color":{"field":"s","type":"nominal","scale":{"domain":["blue","red"],"range":["#4c72b0","#c44e52"]},"legend":null}}},
       {"mark":{"type":"line","interpolate":"catmull-rom","strokeWidth":4,"clip":true},
        "encoding":{"y":{"field":"v","type":"quantitative","axis":null},"x":{"field":"d","type":"quantitative","stack":null,"axis":null},"color":{"field":"s","type":"nominal","legend":null},"order":{"field":"v","type":"quantitative"}}}
      ]
     }
    ]
   }
  ]
 }
]
}
